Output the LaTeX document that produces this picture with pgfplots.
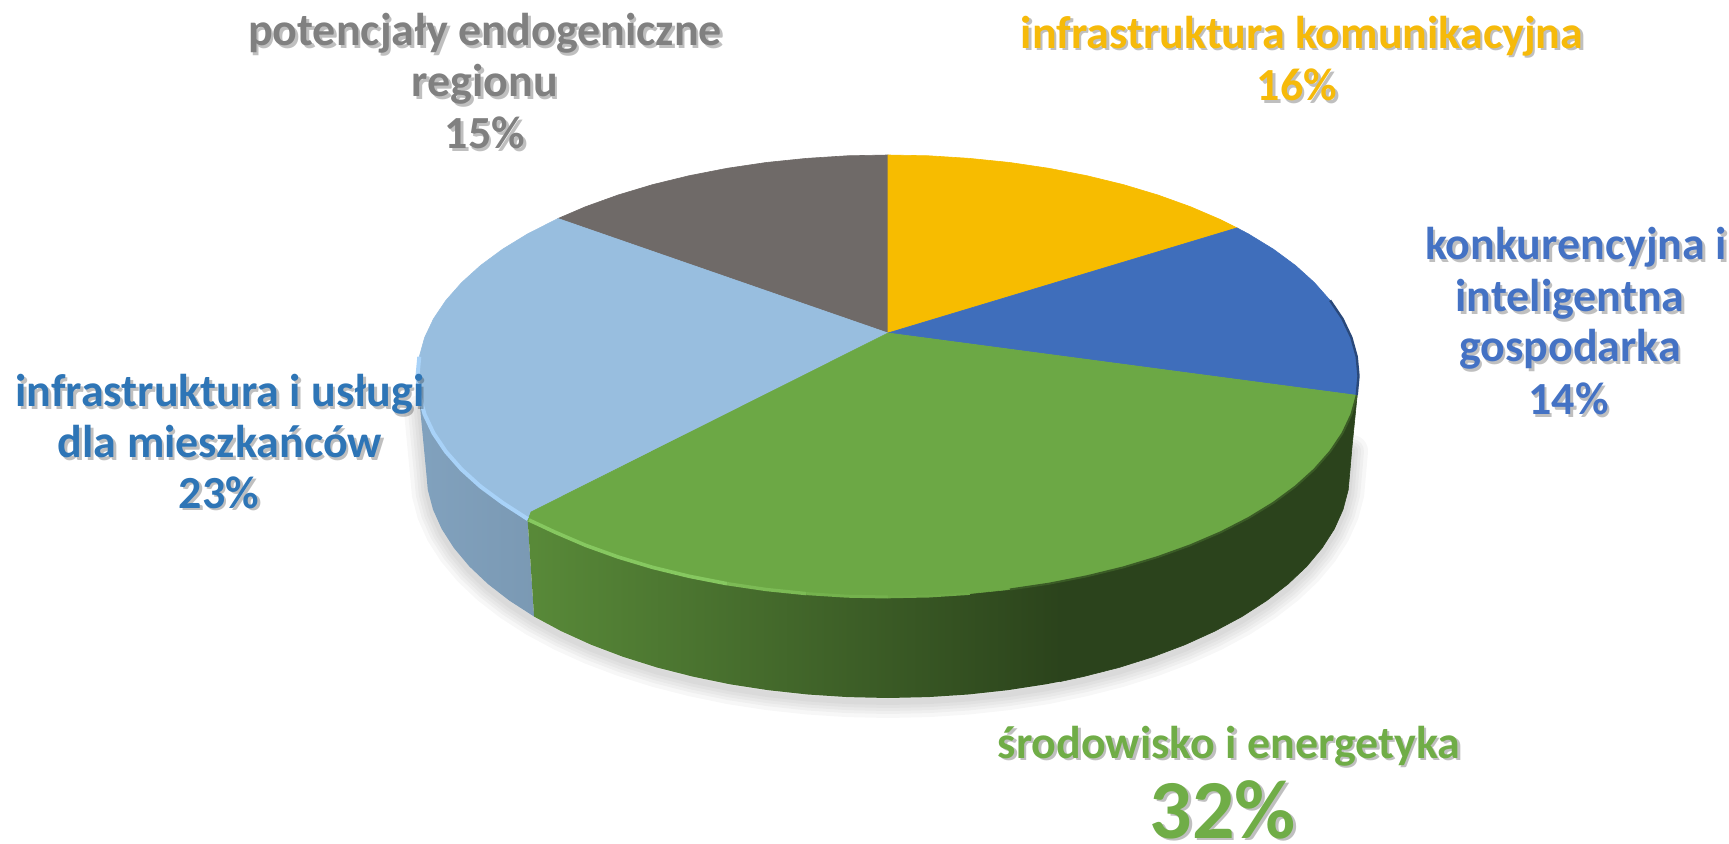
\documentclass[border=0pt]{standalone}
\usepackage{pgfplots}
\pgfplotsset{compat=1.18}
\usepackage{pgfplotstable}
\usepackage{fontspec}
\setmainfont{Carlito}
\definecolor{cYel}{HTML}{F7BC00}
\definecolor{cBlu}{HTML}{3F6EBB}
\definecolor{cGrn}{HTML}{6CA845}
\definecolor{cGry}{HTML}{6F6A68}
\definecolor{cLbl}{HTML}{98BEDF}
\definecolor{rLbl}{HTML}{A8D2F8}
\definecolor{rGrn}{HTML}{86C860}
\definecolor{tYel}{HTML}{F6BA0A}
\definecolor{tBlu}{HTML}{4472C4}
\definecolor{tSky}{HTML}{2E75B6}
\definecolor{tGrn}{HTML}{70AD47}
\definecolor{tGry}{HTML}{808080}
\pgfplotstableread{
x y
420 407
426 470
427.8 489.9
433 509.6
441.7 529
453.9 548
469.3 566.4
487.9 584
509.6 600.8
534.1 616.6
561.3 631.2
591 644.7
623 656.8
657 667.5
692.8 676.6
730 684.3
768.4 690.2
807.8 694.5
847.7 697.1
888 698
928.3 697.1
968.2 694.5
1007.6 690.2
1046 684.3
1083.2 676.6
1119 667.5
1153 656.8
1185 644.7
1214.7 631.2
1241.9 616.6
1266.4 600.8
1288.1 584
1306.7 566.4
1322.1 548
1334.3 529
1343 509.6
1348.2 489.9
1350 470
1352 447
}\silhouette
\newcommand{\lab}[5][23]{%
  \node[anchor=base,text=black,opacity=.25,inner sep=0pt] at (axis cs:#2+2.5,#3+2.5) {\fontsize{#1}{#1}\selectfont\bfseries #5};
  \node[anchor=base,text=#4,inner sep=0pt] at (axis cs:#2,#3) {\fontsize{#1}{#1}\selectfont\bfseries #5};
}
\begin{document}
\begin{tikzpicture}
\path[use as bounding box,clip] (0,0) rectangle (864.5pt,422pt);
\begin{axis}[at={(0,0)},anchor=south west,scale only axis,width=864.5pt,height=422pt,
  xmin=0,xmax=1729,ymin=0,ymax=844,y dir=reverse,axis lines=none,clip=false]
% soft shadow under the pie
\addplot[black,opacity=.03,line width=16pt,line cap=round,mark=none,yshift=-2pt] table {\silhouette};
\addplot[black,opacity=.03,line width=12pt,line cap=round,mark=none,yshift=-2pt] table {\silhouette};
\addplot[black,opacity=.03,line width=9pt,line cap=round,mark=none,yshift=-2pt] table {\silhouette};
\addplot[black,opacity=.03,line width=6pt,line cap=round,mark=none,yshift=-2pt] table {\silhouette};
\addplot[black,opacity=.03,line width=3pt,line cap=round,mark=none,yshift=-2pt] table {\silhouette};
% side walls
\addplot[draw=none,shade,left color=cLbl!85!black,right color=cLbl!78!black,mark=none] coordinates {
(418,378)(420,407)(426,470)(427.8,489.9)(433,509.6)(441.7,529)(453.9,548)(469.3,566.4)(487.9,584)(509.6,600.8)(534.1,616.6)(527.7,521)(600,400)(418,378)};
\addplot[draw=none,shade,left color=cGrn!82!black,right color=cGrn!40!black,mark=none] coordinates {
(527.7,521)(1060,521)(1060,681.6)(1046,684.3)(1007.6,690.2)(968.2,694.5)(928.3,697.1)(888,698)(847.7,697.1)(807.8,694.5)(768.4,690.2)(730,684.3)(692.8,676.6)(657,667.5)(623,656.8)(591,644.7)(561.3,631.2)(534.1,616.6)(527.7,521)};
\addplot[fill=cGrn!40!black,draw=cGrn!40!black,line width=.3pt,mark=none] coordinates {
(1060,521)(1060,681.6)(1083.2,676.6)(1119,667.5)(1153,656.8)(1185,644.7)(1214.7,631.2)(1241.9,616.6)(1266.4,600.8)(1288.1,584)(1306.7,566.4)(1322.1,548)(1334.3,529)(1343,509.6)(1348.2,489.9)(1350,470)(1352,447)(1357,397)(1356.7,395.3)(1300,395)(1060,521)};
% top faces
\addplot[fill=cGry,draw=cGry,line width=.3pt,mark=none] coordinates {
(888,333)(558,218.5)(585.6,206.7)(618.1,195)(652.7,184.6)(689.2,175.7)(727.1,168.3)(766.2,162.5)(806.3,158.4)(847,155.8)(888,155)(888,333)};
\addplot[fill=cYel,draw=cYel,line width=.3pt,mark=none] coordinates {
(888,333)(888,155)(929,155.8)(969.7,158.4)(1009.8,162.5)(1048.9,168.3)(1086.8,175.7)(1123.3,184.6)(1157.9,195)(1190.4,206.7)(1220.7,219.7)(1237,227.9)(888,333)};
\addplot[fill=cBlu,draw=cBlu,line width=.3pt,mark=none] coordinates {
(888,333)(1237,227.9)(1248.4,233.9)(1273.4,249.2)(1295.5,265.5)(1314.4,282.6)(1330.1,300.4)(1342.5,318.8)(1351.4,337.6)(1356.7,356.7)(1358.5,376)(1356.7,395.3)(888,333)};
\addplot[fill=cLbl,draw=cLbl,line width=.3pt,mark=none] coordinates {
(888,333)(531,512)(527.7,521)(502.6,502.8)(480.5,486.5)(461.6,469.4)(445.9,451.6)(433.5,433.2)(424.6,414.4)(419.3,395.3)(417.5,376)(419.3,356.7)(424.6,337.6)(433.5,318.8)(445.9,300.4)(461.6,282.6)(480.5,265.5)(502.6,249.2)(527.6,233.9)(558,218.5)(888,333)};
\addplot[fill=cGrn,draw=cGrn,line width=.3pt,mark=none] coordinates {
(888,333)(1356.7,395.3)(1351.4,414.4)(1342.5,433.2)(1330.1,451.6)(1314.4,469.4)(1295.5,486.5)(1273.4,502.8)(1248.4,518.1)(1220.7,532.3)(1190.4,545.3)(1157.9,557)(1123.3,567.4)(1086.8,576.3)(1048.9,583.7)(1009.8,589.5)(969.7,593.6)(929,596.2)(888,597)(847,596.2)(806.3,593.6)(766.2,589.5)(727.1,583.7)(689.2,576.3)(652.7,567.4)(618.1,557)(585.6,545.3)(555.3,532.3)(527.7,521)(531,512)(888,333)};
% rim highlights
\addplot[color=rLbl,line width=2pt,mark=none] coordinates {
(419.3,356.7)(417.5,376)(419.3,395.3)(424.6,414.4)(433.5,433.2)(445.9,451.6)(461.6,469.4)(480.5,486.5)(502.6,502.8)(527.7,519)};
\addplot[color=rGrn,line width=1.8pt,mark=none] coordinates {
(529,520)(555.3,532.3)(585.6,545.3)(618.1,557)(652.7,567.4)(689.2,576.3)(727.1,583.7)};
\addplot[color=cGrn!40!rGrn,line width=1.7pt,mark=none] coordinates {
(727.1,583.7)(766.2,589.5)(806.3,593.6)};
\addplot[color=cGrn!70!rGrn,line width=1.5pt,mark=none] coordinates {
(806.3,593.6)(847,596.2)(888,597)};
\addplot[color=cGrn!90!rGrn,line width=1.3pt,mark=none] coordinates {
(888,597)(929,596.2)(969.7,593.6)};
\addplot[color=cBlu!65!black,line width=1.2pt,mark=none] coordinates {
(1330.1,300.4)(1342.5,318.8)(1351.4,337.6)(1356.7,356.7)(1358.5,376)(1356.7,395.3)};
\addplot[color=cGrn!55!black,line width=1pt,mark=none] coordinates {
(1356.7,395.3)(1351.4,414.4)(1342.5,433.2)(1330.1,451.6)(1314.4,469.4)(1295.5,486.5)(1273.4,502.8)(1248.4,518.1)(1220.7,532.3)(1190.4,545.3)(1157.9,557)(1123.3,567.4)(1086.8,576.3)(1048.9,583.7)(1009.8,589.5)};
% labels
\lab{485}{46}{tGry}{potencjały endogeniczne}
\lab{485}{97}{tGry}{regionu}
\lab{485}{149}{tGry}{15\%}
\lab{1302}{48.5}{tYel}{infrastruktura komunikacyjna}
\lab{1297}{101}{tYel}{16\%}
\lab{1576}{260}{tBlu}{konkurencyjna i}
\lab{1570}{312}{tBlu}{inteligentna}
\lab{1570}{362}{tBlu}{gospodarka}
\lab{1568.5}{415}{tBlu}{14\%}
\lab{220}{407}{tSky}{infrastruktura i usługi}
\lab{220}{458}{tSky}{dla mieszkańców}
\lab{219}{508}{tSky}{23\%}
\lab{1229}{758}{tGrn}{środowisko i energetyka}
\lab[42]{1223}{838}{tGrn}{32\%}
\end{axis}
\end{tikzpicture}
\end{document}
